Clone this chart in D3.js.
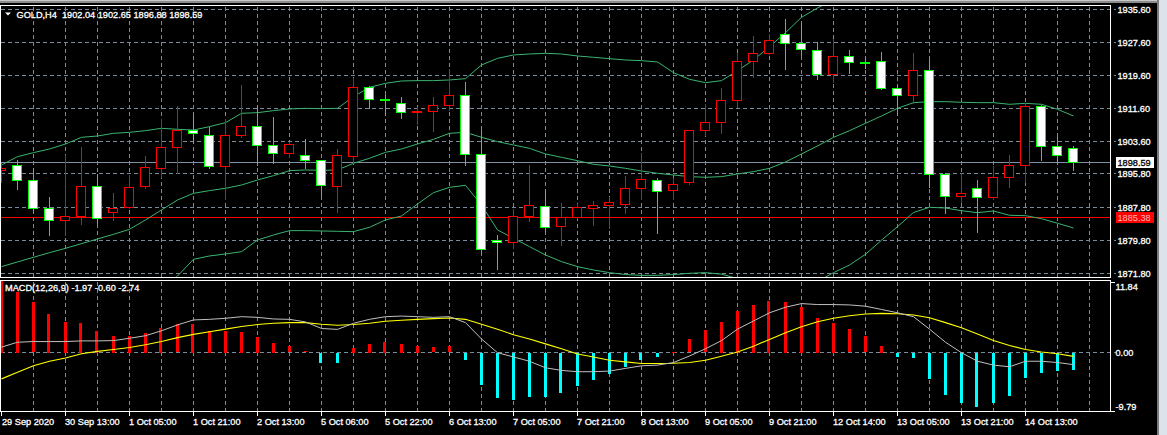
<!DOCTYPE html>
<html><head><meta charset="utf-8">
<script src="https://cdn.jsdelivr.net/npm/d3@7"></script>
<style>
html,body{margin:0;padding:0;background:#000;overflow:hidden}
svg{display:block;font-family:"Liberation Sans",Arial,sans-serif}
text{stroke-width:0.3px;paint-order:stroke}
</style>
</head><body>
<svg id="chart" width="1167" height="435"></svg>
<script>
// ---------------- data ----------------
const opens  = [1896.69,1897.90,1894.28,1887.51,1884.61,1885.48,1892.83,1886.55,1887.75,1892.73,
                1897.18,1902.25,1906.43,1905.15,1897.73,1905.15,1907.33,1902.74,1900.80,1900.32,
                1899.11,1892.83,1900.08,1916.75,1913.85,1912.89,1910.70,1910.95,1912.40,1914.82,
                1900.56,1879.68,1879.30,1885.58,1887.99,1883.07,1885.34,1887.42,1888.24,1888.48,
                1892.35,1894.28,1891.86,1893.80,1906.36,1908.29,1913.61,1923.04,1924.97,1929.56,
                1927.39,1925.69,1919.80,1924.24,1922.79,1923.04,1916.51,1914.82,1920.86,1895.73,
                1890.41,1892.35,1890.17,1895.00,1897.90,1912.23,1902.49,1902.04];
const highs  = [1898.53,1899.18,1897.32,1890.17,1900.39,1902.33,1895.80,1891.28,1895.63,1900.15,
                1909.09,1912.23,1910.47,1907.23,1909.09,1917.31,1912.40,1909.58,1903.46,1904.26,
                1899.30,1901.84,1919.00,1917.07,1914.82,1914.41,1912.07,1914.34,1921.10,1918.11,
                1906.43,1880.99,1887.27,1897.98,1891.93,1888.87,1888.55,1889.28,1890.17,1895.39,
                1900.88,1894.76,1894.76,1906.36,1912.72,1916.51,1924.97,1929.15,1929.63,1933.19,
                1932.22,1927.63,1928.35,1925.77,1924.00,1925.28,1917.38,1925.04,1924.00,1895.97,
                1896.00,1894.35,1897.73,1900.39,1912.70,1912.40,1904.67,1902.65];
const lows   = [1893.94,1892.25,1886.62,1881.13,1880.99,1883.79,1884.03,1884.61,1887.60,1892.49,
                1895.00,1896.12,1903.22,1897.18,1889.69,1904.82,1897.90,1898.39,1899.98,1897.32,
                1890.56,1886.69,1898.46,1911.68,1910.06,1909.41,1907.96,1906.26,1911.19,1898.05,
                1876.64,1872.77,1877.85,1884.44,1882.10,1878.64,1885.10,1883.48,1882.82,1886.45,
                1889.69,1881.62,1889.69,1893.31,1905.15,1905.64,1911.92,1919.17,1924.80,1921.25,
                1924.49,1918.83,1918.11,1920.14,1921.34,1916.30,1909.99,1912.89,1892.59,1886.30,
                1889.04,1881.90,1889.69,1892.73,1893.94,1899.20,1898.60,1896.88];
const closes = [1897.18,1894.28,1887.42,1884.68,1885.58,1892.83,1885.10,1887.51,1892.59,1897.42,
                1902.25,1906.43,1905.64,1897.73,1905.15,1907.33,1902.74,1900.80,1902.98,1899.11,
                1893.07,1900.15,1916.75,1913.85,1913.68,1910.71,1910.85,1912.40,1914.82,1900.56,
                1877.60,1879.30,1885.48,1888.24,1882.82,1885.34,1887.75,1888.24,1888.79,1892.35,
                1894.52,1891.62,1893.31,1906.36,1908.29,1913.61,1923.04,1924.97,1928.11,1927.39,
                1925.94,1919.80,1924.24,1922.79,1922.55,1916.51,1914.82,1920.86,1895.73,1890.41,
                1891.14,1890.17,1895.00,1897.90,1912.07,1902.49,1900.32,1898.59];

const bbUpper  = [1897.98,1899.99,1900.96,1901.84,1903.05,1904.66,1904.98,1905.63,1905.87,1906.27,
                  1906.84,1906.60,1906.43,1907.24,1908.21,1910.46,1910.62,1911.11,1911.51,1911.67,
                  1911.59,1911.67,1914.49,1916.75,1917.71,1918.28,1918.36,1918.36,1918.52,1918.84,
                  1922.14,1923.75,1924.56,1924.80,1924.96,1924.80,1924.32,1924.00,1923.67,1923.35,
                  1923.19,1922.87,1920.29,1918.68,1917.87,1918.36,1920.77,1923.35,1926.57,1929.96,
                  1933.66,1935.92,1938.00,1939.20,1939.80,1940.20,1940.00,1939.60,1941.50,1942.50,
                  1943.00,1943.00,1942.80,1942.50,1941.80,1941.30,1940.70,1940.00];
const bbMiddle = [1873.41,1874.54,1875.67,1876.79,1877.84,1878.97,1880.10,1881.22,1882.43,1884.69,
                  1887.10,1889.52,1891.13,1891.78,1892.34,1893.14,1894.35,1895.40,1896.61,1896.77,
                  1896.69,1896.77,1898.38,1899.59,1901.04,1901.84,1903.05,1904.18,1905.63,1905.87,
                  1904.66,1903.62,1902.81,1902.00,1900.64,1899.83,1899.02,1898.14,1897.74,1897.17,
                  1896.53,1895.96,1895.56,1895.16,1895.00,1895.16,1895.80,1896.37,1897.17,1898.70,
                  1900.64,1902.57,1904.66,1906.27,1908.05,1909.82,1911.68,1913.04,1913.28,1913.28,
                  1913.13,1913.04,1913.04,1912.64,1912.88,1912.64,1911.43,1909.82];
const bbLower  = [1849.00,1849.10,1850.40,1851.70,1852.60,1853.30,1855.20,1856.80,1859.00,1863.10,
                  1867.40,1871.15,1875.18,1875.99,1876.47,1877.03,1879.85,1881.06,1882.11,1882.11,
                  1882.03,1881.95,1881.87,1882.92,1884.69,1885.65,1888.55,1891.29,1892.58,1893.06,
                  1888.31,1882.27,1880.26,1878.24,1876.23,1874.62,1873.41,1872.60,1871.96,1871.50,
                  1871.30,1871.30,1871.50,1871.80,1871.96,1871.60,1870.50,1869.50,1868.50,1868.00,
                  1868.50,1869.80,1871.96,1873.80,1876.40,1879.80,1883.07,1886.50,1887.75,1887.58,
                  1886.93,1886.45,1886.86,1885.82,1885.73,1885.00,1883.89,1882.75];

const macdHist   = [11.84,10.10,8.32,6.38,5.08,4.92,3.62,2.81,2.81,3.24,
                    4.11,4.70,4.76,3.57,3.57,3.46,2.65,1.68,1.03,0.22,
                    -1.62,-1.62,0.76,1.51,1.84,1.51,1.19,0.86,1.03,-1.08,
                    -5.30,-7.41,-7.73,-7.24,-7.30,-6.59,-5.46,-4.49,-3.51,-2.38,
                    -1.14,-0.59,0.11,2.22,3.68,5.14,6.92,7.89,8.54,8.38,
                    7.57,5.73,4.92,3.84,2.70,1.08,-0.59,-0.76,-4.22,-6.86,
                    -8.22,-8.86,-8.22,-7.03,-4.16,-3.35,-3.03,-2.74];
const macdMain   = [0.92,1.73,1.84,1.84,1.84,1.95,1.95,2.00,2.38,2.81,
                    3.62,4.59,5.41,5.51,5.68,5.95,5.84,5.57,5.51,5.08,
                    4.00,3.85,4.86,5.51,5.95,6.05,5.95,5.84,5.95,4.97,
                    2.27,0.00,-0.70,-1.41,-2.49,-2.92,-3.14,-3.14,-3.03,-2.59,
                    -2.16,-2.05,-1.62,-0.54,0.65,2.00,3.89,5.24,6.59,7.51,
                    8.11,7.95,7.95,7.89,7.68,7.14,6.59,5.95,3.89,1.73,
                    0.00,-1.41,-2.05,-2.32,-1.41,-1.41,-1.62,-1.97];
const macdSignal = [-4.32,-3.24,-2.16,-1.41,-0.86,-0.16,0.22,0.54,0.86,1.30,
                    1.84,2.49,3.03,3.46,3.89,4.32,4.65,4.86,4.97,4.97,
                    4.70,4.54,4.65,4.86,5.19,5.35,5.51,5.62,5.73,5.51,
                    4.70,3.89,2.97,2.27,1.46,0.65,-0.22,-0.70,-1.24,-1.51,
                    -1.78,-1.78,-1.73,-1.62,-1.24,-0.59,0.11,1.08,2.20,3.30,
                    4.30,5.10,5.70,6.10,6.40,6.49,6.43,6.22,5.78,4.97,
                    4.11,3.08,2.00,1.19,0.54,0.11,-0.16,-0.60];

const priceTicks      = [1935.6,1927.6,1919.6,1911.6,1903.6,1895.8,1887.8,1879.8,1871.8];
const priceTickLabels = ["1935.60","1927.60","1919.60","1911.60","1903.60","1895.80","1887.80","1879.80","1871.80"];
const macdTicks       = [11.84,0,-9.79];
const macdTickLabels  = ["11.84","0.00","-9.79"];
const timeLabels = ["29 Sep 2020","30 Sep 13:00","1 Oct 05:00","1 Oct 21:00","2 Oct 13:00","5 Oct 06:00",
                    "5 Oct 22:00","6 Oct 13:00","7 Oct 05:00","7 Oct 21:00","8 Oct 13:00","9 Oct 05:00",
                    "9 Oct 21:00","12 Oct 14:00","13 Oct 05:00","13 Oct 21:00","14 Oct 13:00"];
const timeLabelBars = [0,4,8,12,16,20,24,28,32,36,40,44,48,52,56,60,64];
const gridBars = [2,4,6,8,10,12,14,16,18,20,22,24,26,28,30,32,34,36,38,40,42,44,46,48,50,52,54,56,58,60,62,64,66,68];
const lastPrice = 1898.59, lastPriceLabel = "1898.59";
const levelPrice = 1885.38, levelPriceLabel = "1885.38";
const title = "GOLD,H4  1902.04 1902.65 1896.88 1898.59";
const macdTitle = "MACD(12,26,9) -1.97 -0.60 -2.74";

// ---------------- layout ----------------
const svg = d3.select("#chart");
const W = 1167, H = 435;
const main = {l:0.5, r:1110.5, t:5.5, b:277.5};
const sub  = {l:0.5, r:1110.5, t:280.5, b:411.5};
const GRID = "#7a8a9c", DASH = "4,3";

const x  = d3.scaleLinear().domain([0, 67]).range([1.5, 1073.5]);
const yP = d3.scaleLinear().domain([1871.8, 1935.6]).range([273.3, 9.3]);
const yM = d3.scaleLinear().domain([-9.79, 11.84]).range([412, 281]);
const px = v => Math.floor(v) + 0.5;

svg.append("rect").attr("width", W).attr("height", H).attr("fill", "#000");
// window chrome
svg.append("rect").attr("x",0).attr("y",0).attr("width",W).attr("height",1).attr("fill","#c8c8c8");
svg.append("rect").attr("x",0).attr("y",1).attr("width",W).attr("height",2).attr("fill","#8c8c8c");
svg.append("rect").attr("x",1157).attr("y",0).attr("width",2).attr("height",H).attr("fill","#7a7a7a");
svg.append("rect").attr("x",1159).attr("y",0).attr("width",8).attr("height",H).attr("fill","#dde3ea");

const defs = svg.append("defs");
defs.append("clipPath").attr("id","clipMain").append("rect")
  .attr("x", main.l+0.5).attr("y", main.t+0.5).attr("width", main.r-main.l-1).attr("height", main.b-main.t-1);
defs.append("clipPath").attr("id","clipSub").append("rect")
  .attr("x", sub.l+0.5).attr("y", sub.t+0.5).attr("width", sub.r-sub.l-1).attr("height", sub.b-sub.t-1);

// ---------------- grids ----------------
const g = svg.append("g").attr("shape-rendering","crispEdges");
g.selectAll(".hg").data(priceTicks).join("line")
  .attr("x1", 1).attr("x2", 1116)
  .attr("y1", d => px(yP(d))).attr("y2", d => px(yP(d)))
  .attr("stroke", GRID).attr("stroke-dasharray", DASH);
g.selectAll(".vg").data(gridBars).join("line")
  .attr("x1", d => x(d)).attr("x2", d => x(d))
  .attr("y1", main.t+1).attr("y2", main.b-1)
  .attr("stroke", GRID).attr("stroke-dasharray", DASH);
g.selectAll(".vgs").data(gridBars).join("line")
  .attr("x1", d => x(d)).attr("x2", d => x(d))
  .attr("y1", sub.t+1).attr("y2", sub.b-1)
  .attr("stroke", GRID).attr("stroke-dasharray", DASH);
g.append("line").attr("x1",1).attr("x2",1116)
  .attr("y1", px(yM(0))).attr("y2", px(yM(0)))
  .attr("stroke", GRID).attr("stroke-dasharray", DASH);

// price level lines
g.append("line").attr("x1",1).attr("x2",main.r)
  .attr("y1", px(yP(lastPrice))).attr("y2", px(yP(lastPrice))).attr("stroke","#8090a0");
g.append("line").attr("x1",1).attr("x2",main.r)
  .attr("y1", px(yP(levelPrice))).attr("y2", px(yP(levelPrice))).attr("stroke","#ff0000");

// ---------------- Bollinger bands ----------------
const bandG = svg.append("g").attr("clip-path","url(#clipMain)");
const bandLine = arr => d3.line().x((d,i) => x(i)).y(d => yP(d))(arr);
[bbUpper, bbMiddle, bbLower].forEach(arr => {
  bandG.append("path").attr("d", bandLine(arr)).attr("fill","none")
    .attr("stroke","#3cb371").attr("stroke-width",1);
});

// ---------------- candles ----------------
const candles = d3.range(opens.length).map(i => ({i, o:opens[i], h:highs[i], l:lows[i], c:closes[i]}));
const cg = svg.append("g").attr("clip-path","url(#clipMain)").attr("shape-rendering","crispEdges");
cg.selectAll(".wick").data(candles).join("line")
  .attr("x1", d => x(d.i)).attr("x2", d => x(d.i))
  .attr("y1", d => Math.round(yP(d.h))).attr("y2", d => Math.round(yP(d.l)) + 1)
  .attr("stroke", d => d.c >= d.o ? "#ff0000" : "#00ff00");
cg.selectAll(".body").data(candles).join("rect")
  .attr("x", d => x(d.i) - 5)
  .attr("y", d => px(yP(Math.max(d.o, d.c))))
  .attr("width", 9)
  .attr("height", d => Math.max(0, px(yP(Math.min(d.o, d.c))) - px(yP(Math.max(d.o, d.c)))))
  .attr("fill", d => d.c >= d.o ? "#000" : "#fff")
  .attr("stroke", d => d.c >= d.o ? "#ff0000" : "#00ff00");

// ---------------- MACD ----------------
const mg = svg.append("g").attr("clip-path","url(#clipSub)");
mg.selectAll(".hist").data(macdHist).join("rect").attr("shape-rendering","crispEdges")
  .attr("x", (d,i) => Math.round(x(i)) - 2)
  .attr("y", d => Math.round(Math.min(yM(d), yM(0))))
  .attr("width", 3)
  .attr("height", d => Math.max(1, Math.round(Math.abs(yM(d) - yM(0)))))
  .attr("fill", d => d >= 0 ? "#ff0000" : "#00ffff");
const mline = d3.line().x((d,i) => x(i)).y(d => yM(d));
mg.append("path").attr("d", mline(macdSignal)).attr("fill","none").attr("stroke","#ffff00").attr("stroke-width",1.1);
mg.append("path").attr("d", mline(macdMain)).attr("fill","none").attr("stroke","#c0c0c0").attr("stroke-width",1);

// ---------------- frames ----------------
const fr = svg.append("g").attr("shape-rendering","crispEdges").attr("fill","none").attr("stroke","#fff");
fr.append("rect").attr("x",main.l).attr("y",main.t).attr("width",main.r-main.l).attr("height",main.b-main.t);
fr.append("rect").attr("x",sub.l).attr("y",sub.t).attr("width",sub.r-sub.l).attr("height",sub.b-sub.t);

// ---------------- right axis labels ----------------
const ax = svg.append("g").attr("font-size","9.2px").attr("fill","#fff").attr("stroke","#fff");
ax.selectAll(".pl").data(priceTicks).join("text")
  .attr("x", 1117.5).attr("y", d => px(yP(d)) + 3.5)
  .text((d,i) => priceTickLabels[i]);
const boxY1 = px(yP(lastPrice));
svg.append("rect").attr("x",1116).attr("y",boxY1-5.5).attr("width",38).attr("height",11).attr("fill","#fff");
svg.append("text").attr("x",1117.5).attr("y",boxY1+3.5).attr("font-size","9.2px").attr("fill","#000").attr("stroke","#000").text(lastPriceLabel);
const boxY2 = px(yP(levelPrice));
svg.append("rect").attr("x",1116).attr("y",boxY2-5.5).attr("width",38).attr("height",11).attr("fill","#ff0000");
svg.append("text").attr("x",1117.5).attr("y",boxY2+3.5).attr("font-size","9.2px").attr("fill","#ffb8b8").text(levelPriceLabel);

ax.selectAll(".ml").data(macdTicks).join("text")
  .attr("x", 1115.5)
  .attr("y", (d,i) => i === 0 ? yM(d) + 8.5 : (i === 2 ? yM(d) - 2.5 : px(yM(d)) + 3.5))
  .text((d,i) => macdTickLabels[i]);
svg.append("g").attr("shape-rendering","crispEdges").selectAll("line").data(macdTicks.filter((d,i)=>i!==1)).join("line")
  .attr("x1",1111).attr("x2",1115).attr("y1",d=>px(yM(d))+ (d>0?1:-1)).attr("y2",d=>px(yM(d))+(d>0?1:-1))
  .attr("stroke","#fff");

// ---------------- time axis ----------------
const tg = svg.append("g");
tg.selectAll("line").data(timeLabelBars).join("line").attr("shape-rendering","crispEdges")
  .attr("x1", d => x(d)).attr("x2", d => x(d)).attr("y1", 412).attr("y2", 416)
  .attr("stroke", "#fff");
tg.selectAll("text").data(timeLabelBars).join("text")
  .attr("x", d => x(d) + (d === 0 ? 0.5 : -0.5)).attr("y", 424.5)
  .attr("font-size","9.2px").attr("fill","#fff").attr("stroke","#fff")
  .text((d,i) => timeLabels[i]);

// ---------------- titles ----------------
svg.append("path").attr("d","M5,12.5 L11,12.5 L8,15.5 Z").attr("fill","#fff");
svg.append("text").attr("x",16.5).attr("y",17.5).attr("font-size","9.2px").attr("fill","#fff").attr("stroke","#fff")
  .attr("xml:space","preserve").style("white-space","pre").text(title);
svg.append("text").attr("x",5).attr("y",291).attr("font-size","9.2px").attr("fill","#fff").attr("stroke","#fff").text(macdTitle);
</script>
</body></html>
